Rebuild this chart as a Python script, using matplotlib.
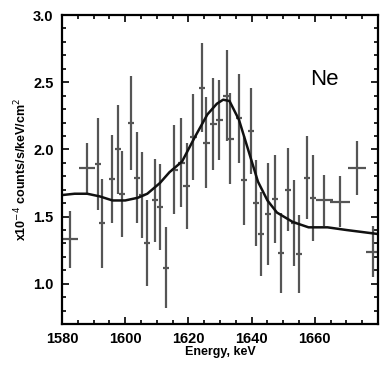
import matplotlib.pyplot as plt
from matplotlib.ticker import MultipleLocator

energia = [1582.5, 1587.9, 1591.4, 1592.7, 1595.9, 1597.8, 1599.0, 1601.9, 1603.8, 1605.4,
           1607.0, 1609.5, 1611.1, 1613.0, 1615.6, 1617.8, 1619.4, 1621.6, 1624.4, 1625.7,
           1627.9, 1629.8, 1632.1, 1633.3, 1635.9, 1637.5, 1639.7, 1641.3, 1642.9, 1645.1,
           1647.3, 1649.2, 1651.4, 1653.3, 1654.9, 1657.5, 1659.4, 1662.9, 1667.9, 1673.3,
           1678.4]
cuentas = [1.33, 1.86, 1.89, 1.45, 1.78, 2.00, 1.67, 2.20, 1.79, 1.66,
           1.30, 1.62, 1.57, 1.12, 1.85, 1.90, 1.73, 2.09, 2.46, 2.05,
           2.19, 2.22, 2.40, 2.08, 2.23, 1.77, 2.14, 1.60, 1.37, 1.52,
           1.63, 1.23, 1.70, 1.45, 1.22, 1.79, 1.64, 1.62, 1.61, 1.86,
           1.24]
error = [0.21, 0.19, 0.34, 0.33, 0.33, 0.33, 0.32, 0.35, 0.34, 0.32,
         0.32, 0.31, 0.32, 0.30, 0.33, 0.33, 0.32, 0.32, 0.33, 0.34,
         0.34, 0.30, 0.34, 0.34, 0.33, 0.33, 0.32, 0.32, 0.31, 0.38,
         0.33, 0.30, 0.31, 0.32, 0.29, 0.31, 0.32, 0.19, 0.19, 0.20,
         0.19]
ancho = [2.5, 2.5, 1, 1, 1, 1, 1, 1, 1, 1,
         1, 1, 1, 1, 1, 1, 1, 1, 1, 1,
         1, 1, 1, 1, 1, 1, 1, 1, 1, 1,
         1, 1, 1, 1, 1, 1, 1, 2.7, 3.2, 2.8,
         2.3]

# fitted model curve
modelo_e = [1580, 1584, 1588, 1592, 1596, 1600, 1604, 1607, 1611, 1614, 1618, 1622, 1626,
            1629, 1631, 1633, 1636, 1639, 1642, 1645, 1648, 1653, 1658, 1664, 1670, 1680]
modelo_c = [1.66, 1.67, 1.67, 1.65, 1.62, 1.62, 1.64, 1.67, 1.75, 1.83, 1.91, 2.09, 2.26,
            2.34, 2.37, 2.36, 2.22, 1.99, 1.76, 1.62, 1.53, 1.46, 1.42, 1.42, 1.40, 1.37]

x_ticks = [1580, 1600, 1620, 1640, 1660]

plt.rcParams['font.family'] = ['Liberation Sans', 'DejaVu Sans']

fig = plt.figure(figsize=(3.8, 3.67), dpi=100)
ax = fig.add_axes([0.163, 0.117, 0.832, 0.842])

ax.errorbar(energia, cuentas, yerr=error, xerr=ancho, fmt='none',
            ecolor='#555555', elinewidth=1.6, capsize=0)
ax.plot(modelo_e, modelo_c, color='#111111', lw=1.8)

ax.set_xlim(1580, 1680)
ax.set_ylim(0.7, 3.0)
ax.set_xticks(x_ticks)
ax.xaxis.set_minor_locator(MultipleLocator(5))
ax.yaxis.set_major_locator(MultipleLocator(0.5))
ax.yaxis.set_minor_locator(MultipleLocator(0.1))
ax.tick_params(which='both', direction='in', top=True, right=True, width=1.2)
ax.tick_params(which='major', length=5, labelsize=10.5, pad=6)
ax.tick_params(which='minor', length=3)
for lbl in ax.get_xticklabels() + ax.get_yticklabels():
    lbl.set_fontweight('bold')
for s in ax.spines.values():
    s.set_linewidth(1.6)

ax.set_xlabel('Energy, keV', fontsize=9, fontweight='bold', labelpad=0)
ax.set_ylabel(r'x10$^{-4}$ counts/s/keV/cm$^2$', fontsize=9, fontweight='bold', labelpad=3)
ax.text(0.83, 0.79, 'Ne', transform=ax.transAxes, fontsize=16, ha='center', va='center')

fig.savefig('out.png', dpi=100)
